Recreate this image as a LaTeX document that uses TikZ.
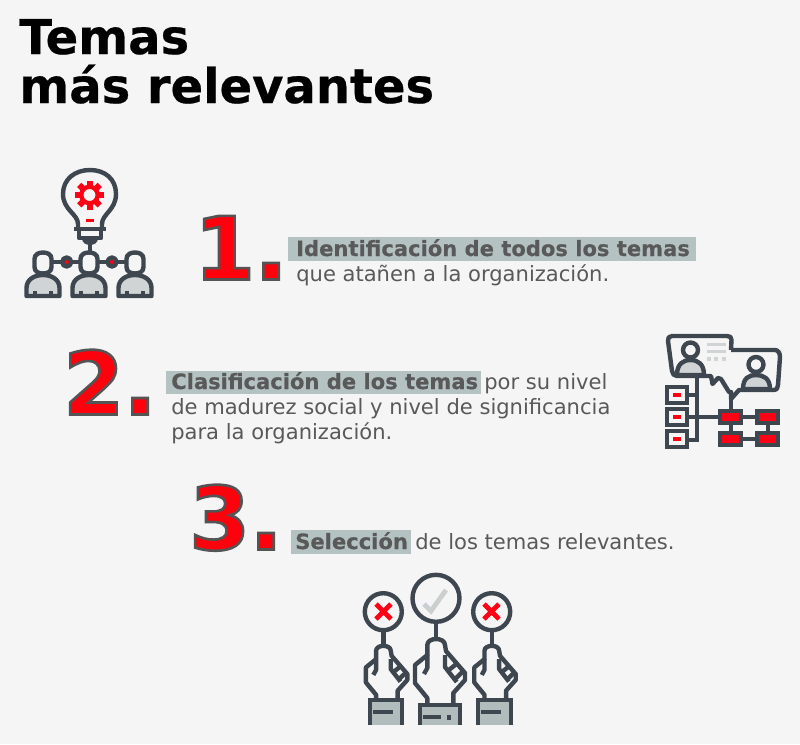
\documentclass[tikz,border=0pt]{standalone}
\usepackage{fontspec}
\setmainfont{DejaVu Sans}
\newfontface\numf[FakeBold=3]{DejaVu Sans Bold}
\newfontface\ttlf[FakeBold=0.5]{DejaVu Sans Bold}
\newfontface\bdf[FakeBold=0.4]{DejaVu Sans Bold}
\newcommand{\numtxt}[1]{\special{pdf:bcolor [1 0 0.05] [0.33 0.33 0.33]}{\numf\fontsize{65.5}{66}\selectfont #1}\special{pdf:ecolor}}
\definecolor{ink}{HTML}{3E4650}
\definecolor{txt}{HTML}{595959}
\definecolor{hl}{HTML}{B4C2C2}
\definecolor{lg}{HTML}{D1D4D5}
\definecolor{cuff}{HTML}{B1BDBD}
\definecolor{rd}{HTML}{FF0015}
\tikzset{
 x=0.75pt,y=-0.75pt,
 ic/.style={draw=ink,line width=3.3pt,line join=round},
 box/.style={draw=ink,line width=3.3pt,line join=miter},
 thn/.style={draw=ink,line width=2.6pt,line join=round},
 titletxt/.style={anchor=base west,inner sep=0,text=black,font=\ttlf\fontsize{36}{36}\selectfont},
 bd/.style={anchor=base west,inner sep=0,text=txt,font=\bdf\fontsize{15.8}{15.8}\selectfont},
 rg/.style={anchor=base west,inner sep=0,text=txt,font=\fontsize{15.8}{15.8}\selectfont},
 num/.style={anchor=base west,inner sep=0},
}
\newcommand{\person}[1]{%
 \begin{scope}[shift={(#1,0)}]
 \draw[ic,fill=lg] (-16.5,296) -- (-16.5,288) .. controls (-16.5,279) and (-8,275) .. (0,275) .. controls (8,275) and (16.5,279) .. (16.5,288) -- (16.5,296) -- cycle;
 \draw[thn] (-8,296) -- (-8,291); \draw[thn] (8,296) -- (8,291);
 \draw[ic,fill=black!4] (-8.5,259) .. controls (-8.5,254) and (-4,252.5) .. (0,252.5) .. controls (4,252.5) and (8.5,254) .. (8.5,259) -- (8.5,267) .. controls (8.5,272) and (4,273.5) .. (0,273.5) .. controls (-4,273.5) and (-8.5,272) .. (-8.5,267) -- cycle;
 \end{scope}}
\newcommand{\hand}[4]{% xshift, xscale, yscale, ytop
 \begin{scope}[shift={(#1,#4)},xscale=#2,yscale=#3]
 \draw[ic] (-8.7,51) -- (-8.7,44) -- (-21,29) -- (-21,11) -- (-8.7,1) -- (-8.7,-9) .. controls (-8.7,-17) and (9,-17) .. (9,-9) -- (10,-3) -- (29,19) -- (29,26) -- (17.3,39) -- (17.3,51);
 \draw[ic] (-8.7,1) -- (-8.7,14) -- (-12,20);
 \draw[ic] (9,1) -- (9,13) -- (20.7,28);
 \draw[ic] (10.7,17.7) -- (20,10.3);
 \draw[ic] (18,26) -- (26.7,17.7);
 \end{scope}}
\begin{document}
\begin{tikzpicture}
\useasboundingbox (0,0) rectangle (800,744);
\fill[fill=black!4] (0,0) rectangle (800,744);
% title
\node[titletxt] (t1) at (19,54) {Temas};
\node[titletxt] (t2) at (19,103) {más relevantes};
% highlights
\fill[hl] (288,237) rectangle (696,261);
\fill[hl] (166,371) rectangle (481,394);
\fill[hl] (291,530) rectangle (411,554);
% numbers
\node[num] (n1) at (194,279.5) {\numtxt{1\kern-0.5pt.}};
\node[num] (n2) at (63,414.5) {\numtxt{2\kern-0.5pt.}};
\node[num] (n3) at (189,549.5) {\numtxt{3\kern-0.5pt.}};
% text
\node[bd] (a1) at (296,256) {Identificación de todos los temas};
\node[rg] (a2) at (296,281) {que atañen a la organización.};
\node[bd] (b1) at (171,389) {Clasificación de los temas};
\node[rg] (b1r) at (484,389) {por su nivel};
\node[rg] (b2) at (171,414) {de madurez social y nivel de significancia};
\node[rg] (b3) at (171,439) {para la organización.};
\node[bd] (c1) at (295,549) {Selección};
\node[rg] (c2) at (415,549) {de los temas relevantes.};
% icon 1 : bulb
\draw[ic] (78,229) -- (78,224) .. controls (78,214) and (63,210) .. (63,194) .. controls (63,179) and (75,170) .. (90,170) .. controls (105,170) and (116,179) .. (116,194) .. controls (116,210) and (102,214) .. (102,224) -- (102,229);
\draw[ic] (74,229) -- (106,229);
\draw[ic] (79,229) -- (79,238) -- (101,238) -- (101,229);
\fill[ink] (82,238) -- (98,238) .. controls (98,243) and (94,245) .. (90,245) .. controls (86,245) and (82,243) .. (82,238) -- cycle;
\draw[ic] (90,245) -- (90,252);
\foreach \a in {0,45,...,315}{\fill[rd,rotate around={\a:(89.5,195)}] (86.5,180.5) rectangle (92.5,187);}
\draw[rd,line width=3.2pt] (89.5,195) circle (8.2);
\fill[rd] (85.5,218.5) rectangle (93.5,221.5);
% people
\draw[ic] (53,262) -- (79,262); \draw[ic] (99,262) -- (125,262);
\person{43}\person{89}\person{135}
\draw[ic,fill=rd] (66.7,262) circle (4.5);
\draw[ic,fill=rd] (112,262) circle (4.5);
% icon 2
\draw[ic] (731,350) -- (731.5,340) .. controls (731.5,337) and (730,336) .. (727,336) -- (672,336) .. controls (669,336) and (667.5,338) .. (668,341) -- (672,371) .. controls (672.5,374) and (674,376) .. (677,376) -- (711,376) -- (712.5,384) -- (718,378) -- (721,379) -- (729,392) -- (731,392) -- (731,399) -- (739,390) -- (773,390) .. controls (777,390) and (778,388) .. (778,385) -- (780,357) .. controls (780,353) and (778,350) .. (775,350) -- (731,350);
\draw[ic,fill=lg] (677,375) .. controls (677,364) and (683,360) .. (690.5,360) .. controls (698,360) and (704,364) .. (704,375) -- cycle;
\draw[ic] (690.5,350) circle (7.5);
\draw[ic,fill=lg] (743,389) .. controls (743,378) and (749,375) .. (756,375) .. controls (763,375) and (770,378) .. (770,389) -- cycle;
\draw[ic] (756,364.5) circle (7.5);
\fill[lg] (707,342.5) rectangle (726,345.5); \fill[lg] (707,350) rectangle (726,353);
\fill[lg] (707,357) rectangle (711,360.5); \fill[lg] (714,357) rectangle (718,360.5); \fill[lg] (722,357) rectangle (726,360.5);
\draw[box] (697,376) -- (697,440) -- (688,440);
\draw[box] (688,395) -- (697,395); \draw[box] (688,417) -- (720,417);
\foreach \y in {387,409,431}{\draw[box] (667,\y) rectangle (687,\y+16); \fill[rd] (673,\y+6) rectangle (681,\y+10);}
\foreach \xx/\yy in {720/411,757/411,720/433,757/433}{\draw[box,fill=rd] (\xx,\yy) rectangle (\xx+21,\yy+12);}
\draw[box] (731,392) -- (731,411);
\draw[box] (741,417) -- (757,417); \draw[box] (741,439) -- (757,439);
\draw[box] (731,423) -- (731,433); \draw[box] (768,423) -- (768,433);
% icon 3: signs
\draw[ic] (383.3,611.7) circle (18.5); \draw[ic] (436,598.3) circle (23.5); \draw[ic] (491.7,611.7) circle (18.5);
\draw[rd,line width=3.6pt] (376,604) -- (391,619) (391,604) -- (376,619);
\draw[rd,line width=3.6pt] (484,604) -- (499,619) (499,604) -- (484,619);
\draw[lg!80!cuff,line width=3.6pt] (424,604) -- (431,611) -- (446,590);
\draw[ic] (383.3,630) -- (383.3,647); \draw[ic] (436,622) -- (436,640);
\draw[ic] (491.7,630) -- (491.7,647);
\hand{436}{1}{1}{654}
\hand{383.3}{0.83}{0.83}{658.3}
\hand{491.7}{0.83}{0.83}{658.3}
% cuffs
\fill[cuff] (419,705) rectangle (461,724.5);
\draw[box] (420,725) -- (420,705) -- (460,705) -- (460,725);
\draw[box] (423,717) -- (441,717); \fill[ink] (447,715) rectangle (451,720);
\fill[cuff] (369,700) rectangle (403,724.5);
\draw[box] (370,725) -- (370,700) -- (402,700) -- (402,725);
\draw[box] (373,712) -- (393,712);
\fill[cuff] (477,700) rectangle (511,724.5);
\draw[box] (478,725) -- (478,700) -- (511,700) -- (511,725);
\draw[box] (481,712) -- (501,712);
\end{tikzpicture}
\end{document}
